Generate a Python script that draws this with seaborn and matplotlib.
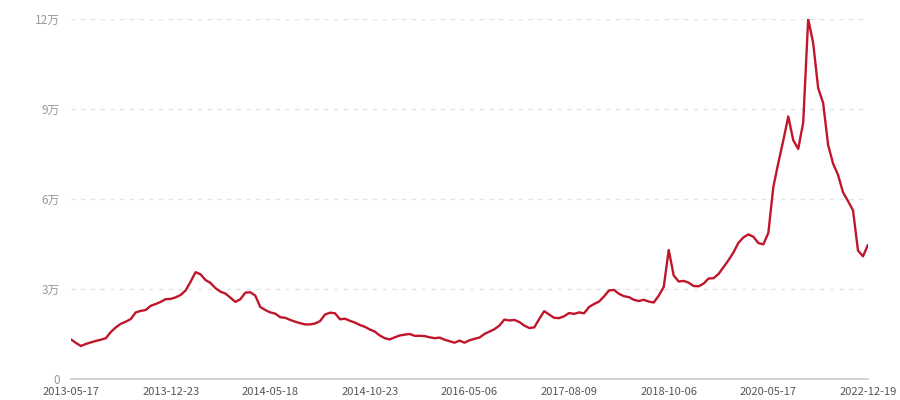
import pandas as pd
import matplotlib
matplotlib.use("Agg")
import matplotlib.pyplot as plt
import seaborn as sns

# weekly values, in units of 万 (10k)
values_wan = [
    1.32, 1.20, 1.10, 1.17, 1.22, 1.27, 1.31, 1.36, 1.57, 1.72,
    1.84, 1.91, 2.00, 2.22, 2.27, 2.30, 2.44, 2.50, 2.57, 2.66,
    2.67, 2.72, 2.80, 2.95, 3.24, 3.56, 3.49, 3.30, 3.20, 3.03,
    2.91, 2.85, 2.71, 2.57, 2.66, 2.88, 2.89, 2.78, 2.40, 2.30,
    2.22, 2.18, 2.06, 2.04, 1.97, 1.91, 1.86, 1.82, 1.82, 1.85,
    1.93, 2.15, 2.21, 2.19, 1.99, 2.01, 1.94, 1.88, 1.80, 1.74,
    1.65, 1.58, 1.45, 1.36, 1.32, 1.39, 1.45, 1.48, 1.50, 1.44,
    1.44, 1.43, 1.39, 1.36, 1.38, 1.31, 1.26, 1.21, 1.28, 1.21,
    1.29, 1.34, 1.38, 1.50, 1.58, 1.66, 1.78, 1.98, 1.95, 1.97,
    1.90, 1.78, 1.70, 1.72, 2.00, 2.26, 2.15, 2.04, 2.03, 2.09,
    2.20, 2.17, 2.22, 2.19, 2.40, 2.50, 2.58, 2.75, 2.95, 2.97,
    2.84, 2.76, 2.73, 2.64, 2.60, 2.64, 2.58, 2.55, 2.78, 3.07,
    4.30, 3.45, 3.25, 3.27, 3.21, 3.10, 3.09, 3.18, 3.35, 3.36,
    3.50, 3.73, 3.96, 4.22, 4.54, 4.72, 4.82, 4.74, 4.53, 4.49,
    4.87, 6.40, 7.20, 7.95, 8.75, 7.96, 7.67, 8.55, 12.0, 11.2,
    9.70, 9.20, 7.80, 7.18, 6.80, 6.22, 5.93, 5.62, 4.28, 4.09,
    4.47,
]
tick_dates = ["2013-05-17", "2013-12-23", "2014-05-18", "2014-10-23", "2016-05-06",
              "2017-08-09", "2018-10-06", "2020-05-17", "2022-12-19"]
y_ticks = [0, 30000, 60000, 90000, 120000]
y_labels = ["0", "3万", "6万", "9万", "12万"]

df = pd.DataFrame({"idx": range(len(values_wan)),
                   "value": [v * 10000 for v in values_wan]})

sns.set_style("white")
plt.rcParams["font.family"] = ["Noto Sans CJK SC", "DejaVu Sans"]

fig = plt.figure(figsize=(9, 4), dpi=100)
ax = fig.add_axes([0.0789, 0.0525, 0.8855, 0.90])

sns.lineplot(data=df, x="idx", y="value", color="#c0162b", linewidth=1.7, ax=ax)

ax.set_xlim(0, len(values_wan) - 1)
ax.set_ylim(0, 120000)
step = (len(values_wan) - 1) // (len(tick_dates) - 1)
ax.set_xticks([i * step for i in range(len(tick_dates))])
ax.set_xticklabels(tick_dates, fontsize=8, color="#555555")
ax.set_yticks(y_ticks)
ax.set_yticklabels(y_labels, fontsize=8.5, color="#999999")
ax.set_xlabel("")
ax.set_ylabel("")

for y in y_ticks[1:]:
    ax.axhline(y, color="#e3e3e3", linewidth=1, linestyle=(0, (3, 4)), zorder=0)

for s in ["top", "right", "left"]:
    ax.spines[s].set_visible(False)
ax.spines["bottom"].set_color("#cccccc")
ax.spines["bottom"].set_linewidth(1.2)
ax.tick_params(axis="x", length=4, color="#cccccc", pad=2)
ax.tick_params(axis="y", length=0, pad=8)

fig.savefig("out.png", dpi=100)
